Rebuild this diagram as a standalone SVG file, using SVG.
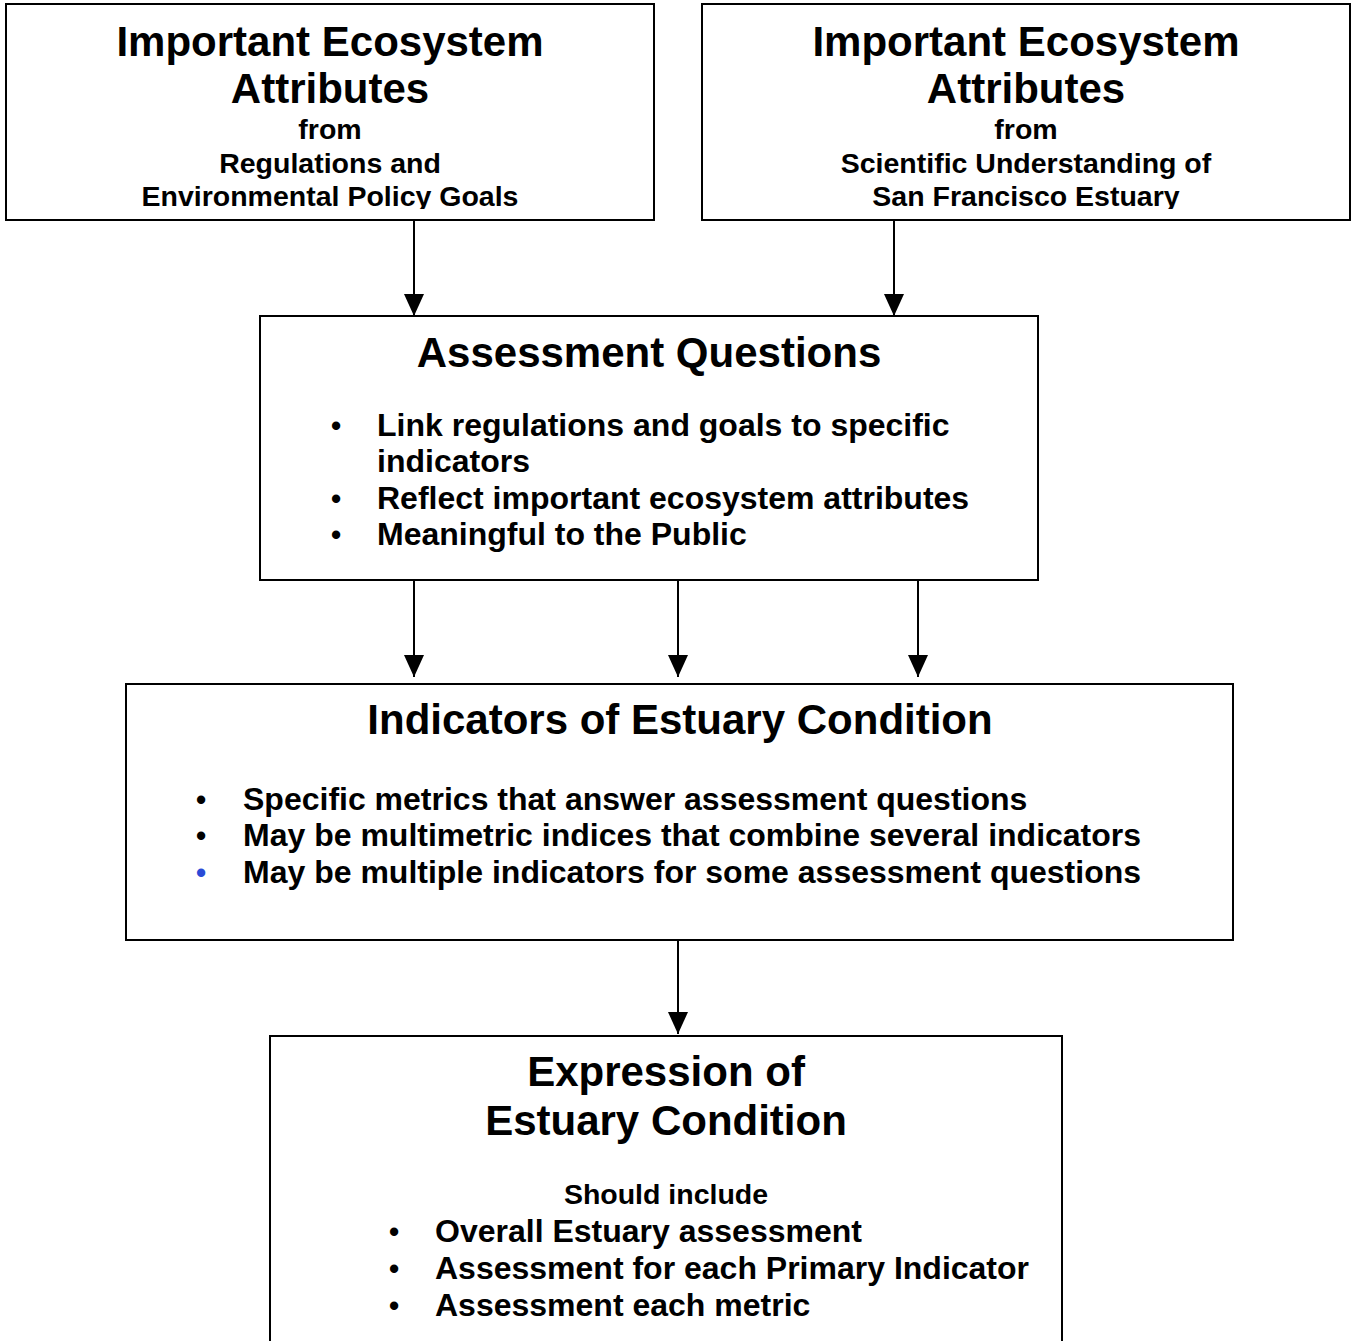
<svg xmlns="http://www.w3.org/2000/svg" width="1356" height="1341" viewBox="0 0 1356 1341">
<style>
.box{fill:#fff;stroke:#000;stroke-width:2}
.t{font-family:"Liberation Sans",Arial,sans-serif;font-weight:bold;fill:#000}
.h{font-size:42px;text-anchor:middle}
.s{font-size:28.5px;text-anchor:middle}
.b{font-size:32px}
.d{font-size:29px}
.c{stroke:#000;stroke-width:2;fill:none}
</style>
<defs>
<marker id="ah" viewBox="0 0 22 20" refX="22" refY="10" markerWidth="22" markerHeight="20" markerUnits="userSpaceOnUse" orient="auto">
<path d="M0,0 L22,10 L0,20 Z" fill="#000"/>
</marker>
<clipPath id="cp1"><rect x="0" y="0" width="1356" height="209"/></clipPath>
</defs>
<rect width="1356" height="1341" fill="#fff"/>
<g id="connectors">
<line class="c" x1="414" y1="220" x2="414" y2="316" marker-end="url(#ah)"/>
<line class="c" x1="894" y1="220" x2="894" y2="316" marker-end="url(#ah)"/>
<line class="c" x1="414" y1="580" x2="414" y2="677" marker-end="url(#ah)"/>
<line class="c" x1="678" y1="580" x2="678" y2="677" marker-end="url(#ah)"/>
<line class="c" x1="918" y1="580" x2="918" y2="677" marker-end="url(#ah)"/>
<line class="c" x1="678" y1="940" x2="678" y2="1034" marker-end="url(#ah)"/>
</g>
<g id="node-regulations">
<rect class="box" x="6" y="4" width="648" height="216"/>
<g clip-path="url(#cp1)">
<text class="t h" x="330" y="56">Important Ecosystem</text>
<text class="t h" x="330" y="103">Attributes</text>
<text class="t s" x="330" y="139">from</text>
<text class="t s" x="330" y="173">Regulations and</text>
<text class="t s" x="330" y="206">Environmental Policy Goals</text>
</g>
</g>
<g id="node-science">
<rect class="box" x="702" y="4" width="648" height="216"/>
<g clip-path="url(#cp1)">
<text class="t h" x="1026" y="56">Important Ecosystem</text>
<text class="t h" x="1026" y="103">Attributes</text>
<text class="t s" x="1026" y="139">from</text>
<text class="t s" x="1026" y="173">Scientific Understanding of</text>
<text class="t s" x="1026" y="206">San Francisco Estuary</text>
</g>
</g>
<g id="node-questions">
<rect class="box" x="260" y="316" width="778" height="264"/>
<text class="t h" x="649" y="367">Assessment Questions</text>
<text class="t d" x="331" y="436">•</text>
<text class="t b" x="377" y="436">Link regulations and goals to specific</text>
<text class="t b" x="377" y="472">indicators</text>
<text class="t d" x="331" y="509">•</text>
<text class="t b" x="377" y="509">Reflect important ecosystem attributes</text>
<text class="t d" x="331" y="545">•</text>
<text class="t b" x="377" y="545">Meaningful to the Public</text>
</g>
<g id="node-indicators">
<rect class="box" x="126" y="684" width="1107" height="256"/>
<text class="t h" x="680" y="734">Indicators of Estuary Condition</text>
<text class="t d" x="196" y="810">•</text>
<text class="t b" x="243" y="810">Specific metrics that answer assessment questions</text>
<text class="t d" x="196" y="846">•</text>
<text class="t b" x="243" y="846">May be multimetric indices that combine several indicators</text>
<text class="t d" x="196" y="883" style="fill:#2a4bd7">•</text>
<text class="t b" x="243" y="883">May be multiple indicators for some assessment questions</text>
</g>
<g id="node-expression">
<rect class="box" x="270" y="1036" width="792" height="320"/>
<text class="t h" x="666" y="1086">Expression of</text>
<text class="t h" x="666" y="1135">Estuary Condition</text>
<text class="t s" x="666" y="1204">Should include</text>
<text class="t d" x="389" y="1242">•</text>
<text class="t b" x="435" y="1242">Overall Estuary assessment</text>
<text class="t d" x="389" y="1279">•</text>
<text class="t b" x="435" y="1279">Assessment for each Primary Indicator</text>
<text class="t d" x="389" y="1316">•</text>
<text class="t b" x="435" y="1316">Assessment each metric</text>
</g>
</svg>
